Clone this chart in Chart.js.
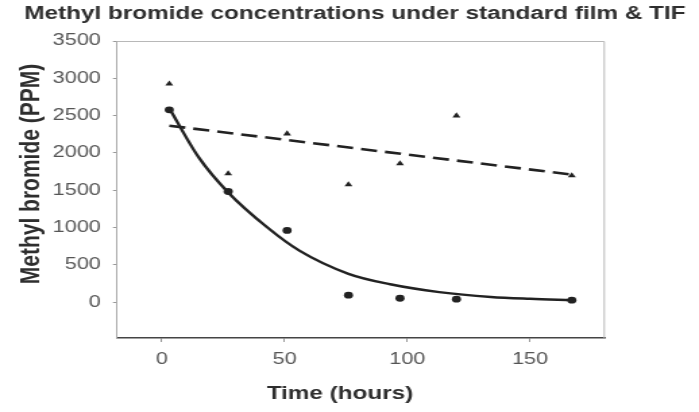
<!DOCTYPE html>
<html>
<head>
<meta charset="utf-8">
<title>Methyl bromide concentrations</title>
<script src="https://cdn.jsdelivr.net/npm/chart.js@4.4.1/dist/chart.umd.min.js"></script>
<style>
  html, body { margin: 0; padding: 0; background: #fff; }
  #wrap { width: 699px; height: 412px; overflow: hidden; }
  /* the source picture is stretched sideways, so the canvas is too */
  #chart { display: block; transform-origin: 0 0; transform: scaleX(1.3494); }
</style>
</head>
<body>
<div id="wrap"><canvas id="chart" width="518" height="412"></canvas></div>
<script>
// data
var hours = [3, 27, 51, 76, 97, 120, 167];
var tifPPM = [2926, 1723, 2258, 1576, 1857, 2498, 1697];        // triangles
var standardPPM = [2578, 1483, 962, 94, 53, 40, 27];            // circles

// trend lines as drawn in the picture
var tifTrendHours = [3, 167];
var tifTrendPPM = [2365, 1710];
var stdTrendHours = [3, 15, 27, 43, 56, 76, 93, 113, 134, 150, 167];
var stdTrendPPM = [2600, 1940, 1470, 1000, 690, 380, 240, 135, 70, 45, 27];

var xTicks = [0, 50, 100, 150];
var yTicks = [0, 500, 1000, 1500, 2000, 2500, 3000, 3500];

var chartTitle = 'Methyl bromide concentrations under standard film & TIF';
var xTitle = 'Time (hours)';
var yTitle = 'Methyl bromide (PPM)';

var FONT = '"Liberation Sans", Arial, sans-serif';

function toPoints(xs, ys) {
    return xs.map(function (x, i) { return { x: x, y: ys[i] }; });
}

// light frame on top/right and the three titles
var frameAndTitles = {
    id: 'frameAndTitles',
    beforeDatasetsDraw: function (chart) {
        var ctx = chart.ctx, a = chart.chartArea;
        ctx.save();
        ctx.strokeStyle = '#b8b8b8';
        ctx.lineWidth = 1;
        ctx.beginPath();
        ctx.moveTo(a.left, a.top + 0.5);
        ctx.lineTo(a.right - 0.5, a.top + 0.5);
        ctx.lineTo(a.right - 0.5, a.bottom);
        ctx.stroke();
        ctx.restore();
    },
    afterDraw: function (chart) {
        var ctx = chart.ctx;
        ctx.save();
        ctx.fillStyle = '#2e2e2e';
        ctx.textAlign = 'center';
        ctx.textBaseline = 'middle';
        ctx.font = 'bold 18px ' + FONT;
        ctx.fillText(chartTitle, 263, 14);
        ctx.font = 'bold 18px ' + FONT;
        ctx.fillText(xTitle, 252, 394);
        ctx.translate(23, 174);
        ctx.rotate(-Math.PI / 2);
        ctx.font = 'bold 21px ' + FONT;
        ctx.fillText(yTitle, 0, 0);
        ctx.restore();
    }
};

var ctx = document.getElementById('chart').getContext('2d');

var myChart = new Chart(ctx, {
    type: 'scatter',
    data: {
        datasets: [
            {
                label: 'TIF',
                data: toPoints(hours, tifPPM),
                pointStyle: 'triangle',
                pointRadius: 3.4,
                backgroundColor: '#222',
                borderColor: '#222',
                borderWidth: 0
            },
            {
                label: 'Standard film',
                data: toPoints(hours, standardPPM),
                pointStyle: 'circle',
                pointRadius: 3.4,
                backgroundColor: '#222',
                borderColor: '#222',
                borderWidth: 0
            },
            {
                label: 'TIF trend',
                type: 'line',
                data: toPoints(tifTrendHours, tifTrendPPM),
                borderColor: '#222',
                borderWidth: 2.6,
                borderDash: [12, 6],
                pointRadius: 0,
                fill: false
            },
            {
                label: 'Standard trend',
                type: 'line',
                data: toPoints(stdTrendHours, stdTrendPPM),
                borderColor: '#222',
                borderWidth: 2.4,
                cubicInterpolationMode: 'monotone',
                pointRadius: 0,
                fill: false
            }
        ]
    },
    options: {
        responsive: false,
        animation: false,
        events: [],
        layout: { padding: { top: 41, right: 69.7, bottom: 0, left: 0 } },
        plugins: {
            legend: { display: false },
            tooltip: { enabled: false },
            title: { display: false }
        },
        scales: {
            x: {
                type: 'linear',
                min: -18.3,
                max: 180.5,
                afterBuildTicks: function (s) { s.ticks = xTicks.map(function (v) { return { value: v }; }); },
                afterFit: function (s) { s.height = 74; },
                grid: { display: true, drawOnChartArea: false, drawTicks: true, tickLength: 4, color: '#999' },
                border: { color: '#444', width: 1.5 },
                ticks: {
                    padding: 8,
                    color: '#555',
                    font: { family: FONT, size: 16 },
                    callback: function (v) { return String(v); }
                }
            },
            y: {
                type: 'linear',
                min: -480,
                max: 3500,
                afterBuildTicks: function (s) { s.ticks = yTicks.map(function (v) { return { value: v }; }); },
                afterFit: function (s) { s.width = 86.7; },
                grid: { display: true, drawOnChartArea: false, drawTicks: true, tickLength: 3, color: '#999' },
                border: { color: '#aaa', width: 1 },
                ticks: {
                    padding: 9,
                    color: '#555',
                    font: { family: FONT, size: 16 },
                    callback: function (v) { return String(v); }
                }
            }
        }
    },
    plugins: [frameAndTitles]
});
</script>
</body>
</html>
